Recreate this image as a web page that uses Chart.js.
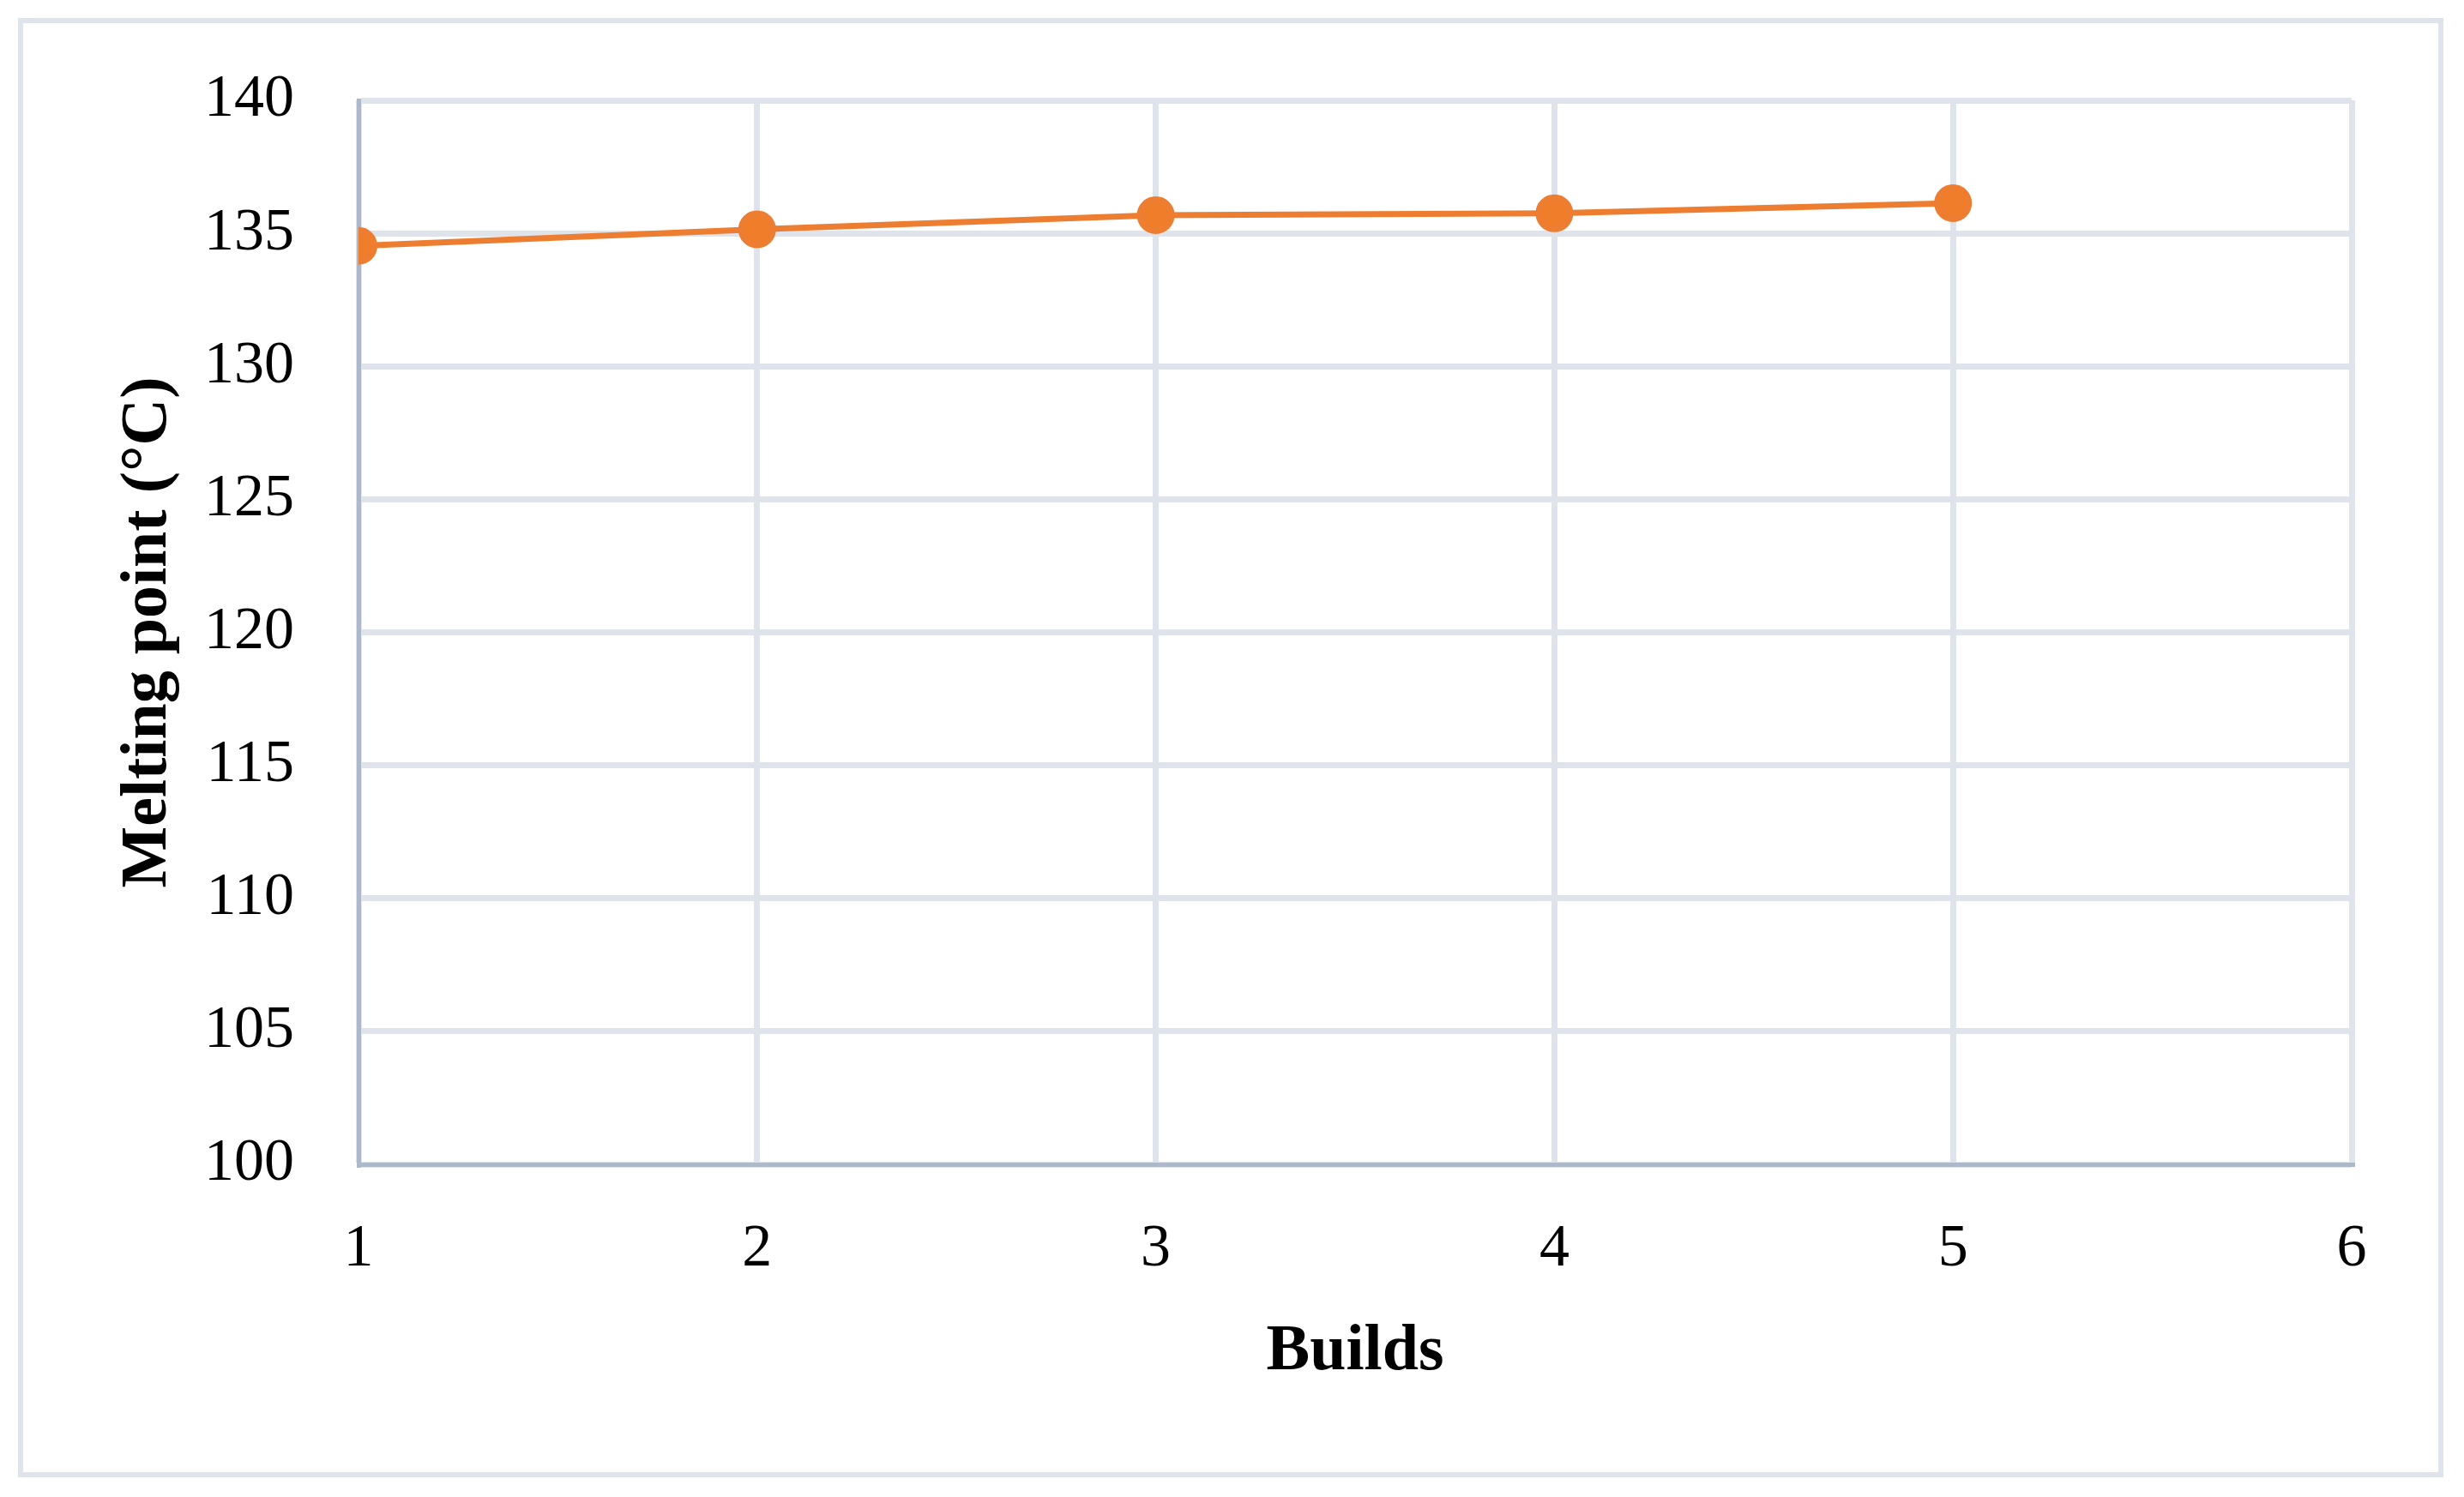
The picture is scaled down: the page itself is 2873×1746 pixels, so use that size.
<!DOCTYPE html>
<html>
<head>
<meta charset="utf-8">
<script src="https://cdn.jsdelivr.net/npm/chart.js@4.4.1/dist/chart.umd.min.js"></script>
<style>
  html, body { margin: 0; padding: 0; background: #fff; }
  #frame {
    position: absolute; left: 21px; top: 21px;
    width: 2816px; height: 1690px;
    border: 6px solid #dfe3eb;
  }
  #chart { position: absolute; left: 0; top: 0; }
</style>
</head>
<body>
<div id="frame"></div>
<canvas id="chart" width="2873" height="1746"></canvas>
<script>
// data
const builds = [1, 2, 3, 4, 5];
const meltingPoint = [134.53, 135.15, 135.68, 135.75, 136.13];
const yTicks = { min: 100, max: 140, step: 5 };
const xTicks = { min: 1, max: 6, step: 1 };

const gridColor = '#dfe3eb';
const axisColor = '#adb9ca';
const orange = '#ed7d31';
const serif = '"Liberation Serif", "Times New Roman", serif';

const points = builds.map((b, i) => ({ x: b, y: meltingPoint[i] }));

new Chart(document.getElementById('chart').getContext('2d'), {
    type: 'line',
    data: {
        datasets: [{
            label: 'Melting point',
            data: points,
            borderColor: orange,
            borderWidth: 7,
            tension: 0,
            pointRadius: 18.5,
            pointHoverRadius: 18.5,
            pointBorderWidth: 7,
            pointBorderColor: orange,
            pointBackgroundColor: '#f07d2a'
        }]
    },
    options: {
        responsive: false,
        animation: false,
        devicePixelRatio: 1,
        layout: { padding: { left: 0, top: 112, right: 131, bottom: 0 } },
        plugins: {
            legend: { display: false },
            tooltip: { enabled: false }
        },
        scales: {
            x: {
                type: 'linear',
                min: xTicks.min,
                max: xTicks.max,
                ticks: {
                    stepSize: xTicks.step,
                    padding: 58,
                    color: '#000',
                    font: { family: serif, size: 70 }
                },
                grid: { color: gridColor, lineWidth: 7, drawTicks: false },
                border: { color: axisColor, width: 5 },
                title: {
                    display: true,
                    text: 'Builds',
                    color: '#000',
                    font: { family: serif, size: 76, weight: 'bold' },
                    padding: { top: 0, bottom: 123 }
                },
                afterFit: function(scale) { scale.height = 388; }
            },
            y: {
                min: yTicks.min,
                max: yTicks.max,
                ticks: {
                    stepSize: yTicks.step,
                    padding: 75,
                    color: '#000',
                    font: { family: serif, size: 70 }
                },
                grid: { color: gridColor, lineWidth: 7, drawTicks: false },
                border: { color: axisColor, width: 5 },
                title: {
                    display: true,
                    text: 'Melting point (°C)',
                    color: '#000',
                    font: { family: serif, size: 76, weight: 'bold' },
                    padding: { top: 128, bottom: 0 }
                },
                afterFit: function(scale) { scale.width = 418; }
            }
        }
    }
});
</script>
</body>
</html>
